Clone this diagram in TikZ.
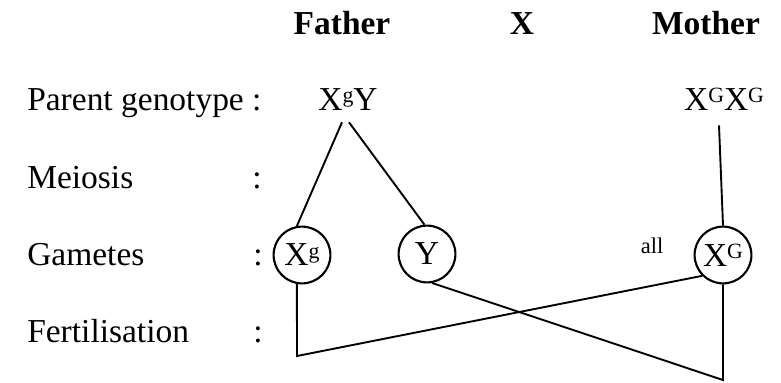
\documentclass[tikz,border=0pt]{standalone}
\usepackage{fontspec}
\setmainfont{Liberation Serif}
\usepackage{tikz}
\usetikzlibrary{positioning, calc}
\newcommand{\upal}[1]{\raisebox{5.6pt}{\fontsize{15.5}{16}\selectfont #1}}
\tikzset{
  rowlabel/.style={anchor=base west, inner sep=0pt,
    font=\fontsize{23.8}{28}\selectfont},
  colon/.style={anchor=base, inner sep=0pt,
    font=\fontsize{23.8}{28}\selectfont},
  hdr/.style={anchor=base, inner sep=0pt,
    font=\fontsize{23.8}{28}\selectfont\bfseries},
  geno/.style={anchor=base, inner sep=0pt,
    font=\fontsize{23.8}{28}\selectfont},
  gamete/.style={circle, draw, line width=1.5pt, minimum size=1.42cm,
    inner sep=0pt, font=\fontsize{23.8}{28}\selectfont},
  link/.style={line width=1.35pt, color=black}
}

\begin{document}
\begin{tikzpicture}[x=0.025cm, y=-0.025cm]
  \useasboundingbox (0,0) rectangle (781,382);

  % Headers
  \node[hdr] (father) at (342,34) {Father};
  \node[hdr] (cross) at (522,34) {X};
  \node[hdr] (mother) at (706,34) {Mother};

  % Row labels
  \node[rowlabel] (lparent) at (27,110) {Parent genotype :};
  \node[rowlabel] (lmeiosis) at (27,188) {Meiosis};
  \node[rowlabel] (lgametes) at (27,265) {Gametes};
  \node[rowlabel] (lfert) at (27,342) {Fertilisation};
  \node[colon] (cmeiosis) at (257,188) {:};
  \node[colon] (cgametes) at (258,265) {:};
  \node[colon] (cfert) at (258,342) {:};

  % Parents
  \node[geno] (fgeno) at (348,110) {X\upal{g}Y};
  \node[geno] (mgeno) at (724,110) {X\upal{G}X\upal{G}};

  % Gametes
  \node[gamete] (gXg) at (302,255) {X\upal{g}};
  \node[gamete] (gY) at (427,254) {Y};
  \node[gamete] (gXG) at (723,255) {X\upal{G}};
  \node[anchor=base, inner sep=0pt, font=\fontsize{16}{17}\selectfont] (all) at (652,253) {all};

  % Meiosis
  \draw[link] ($(fgeno.south)+(-6,12)$) -- (gXg.100);
  \draw[link] ($(fgeno.south)+(1,12)$) -- (gY.95);
  \draw[link] ($(mgeno.south)+(-5,15)$) -- (gXG.north);

  % Fertilisation
  \coordinate (fl) at (297,356);
  \coordinate (fr) at (723,380);
  \draw[link] (gXg.-100) -- (fl) -- (gXG.225);
  \draw[link] (gY.-80) -- (fr) -- (gXG.south);
\end{tikzpicture}
\end{document}
